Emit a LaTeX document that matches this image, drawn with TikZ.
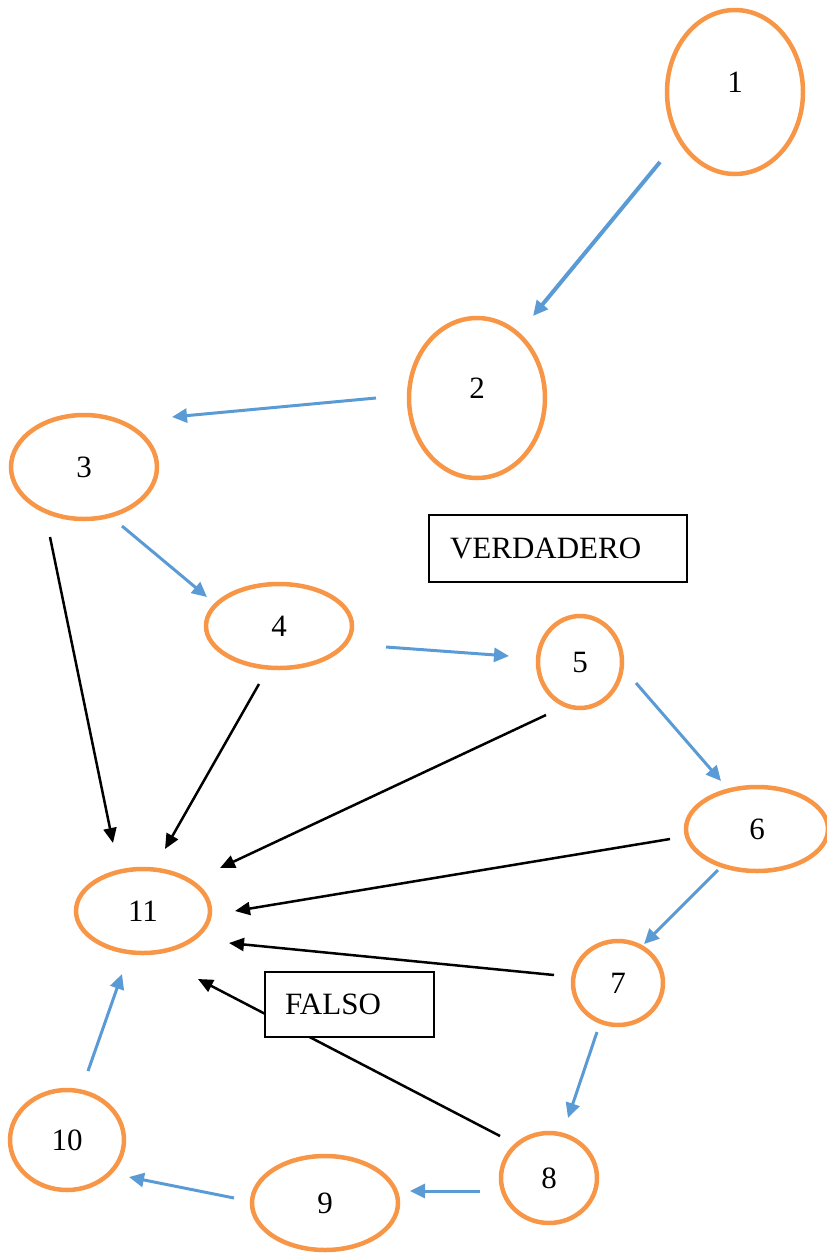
\documentclass[tikz,border=0pt]{standalone}
\usepackage{fontspec}
\setmainfont{Liberation Serif}
\usetikzlibrary{shapes.geometric,arrows.meta}
\definecolor{ora}{HTML}{F79646}
\definecolor{blu}{HTML}{5B9BD5}
\tikzset{
  nd/.style={ellipse,draw=ora,line width=4.5pt,inner sep=0pt,font=\fontsize{31}{36}\selectfont},
  bx/.style={rectangle,draw=black,fill=white,line width=2pt,inner ysep=0pt,align=left,font=\fontsize{31}{36}\selectfont},
  ba/.style={draw=blu,line width=3pt,-{Triangle[length=15pt,width=14pt]}},
  ka/.style={draw=black,line width=2.5pt,-{Triangle[length=15pt,width=13pt]}}
}
\begin{document}
\begin{tikzpicture}[x=1pt,y=-1pt]
\useasboundingbox (0,0) rectangle (827,1253);
% nodes
\node[nd,minimum width=136pt,minimum height=164pt] (n1) at (735,92) {\raisebox{20pt}{1}};
\node[nd,minimum width=136pt,minimum height=160pt] (n2) at (477,398) {\raisebox{19pt}{2}};
\node[nd,minimum width=146pt,minimum height=104pt] (n3) at (84,467) {3};
\node[nd,minimum width=146pt,minimum height=84pt] (n4) at (279,626) {4};
\node[nd,minimum width=84pt,minimum height=92pt] (n5) at (580,662) {5};
\node[nd,minimum width=142pt,minimum height=84pt] (n6) at (757,829) {6};
\node[nd,minimum width=90pt,minimum height=84pt] (n7) at (618,983) {7};
\node[nd,minimum width=96pt,minimum height=90pt] (n8) at (549,1178) {8};
\node[nd,minimum width=146pt,minimum height=94pt] (n9) at (325,1203) {9};
\node[nd,minimum width=114pt,minimum height=100pt] (n10) at (67,1140) {10};
\node[nd,minimum width=134pt,minimum height=84pt] (n11) at (143,911) {11};
% connector end points
\coordinate (a12) at (660,162); \coordinate (b12) at (533,316);
\coordinate (a23) at (376,398); \coordinate (b23) at (172,417);
\coordinate (a34) at (122,526); \coordinate (b34) at (207,597);
\coordinate (a45) at (386,647); \coordinate (b45) at (509,656);
\coordinate (a56) at (636,683); \coordinate (b56) at (721,781);
\coordinate (a67) at (718,870); \coordinate (b67) at (644,944);
\coordinate (a78) at (597,1032); \coordinate (b78) at (568,1118);
\coordinate (a89) at (480,1191); \coordinate (b89) at (410,1191);
\coordinate (a910) at (234,1198); \coordinate (b910) at (129,1177);
\coordinate (a1011) at (88,1071); \coordinate (b1011) at (122,974);
\coordinate (a311) at (50,537); \coordinate (b311) at (113,843);
\coordinate (a411) at (259,684); \coordinate (b411) at (165,849);
\coordinate (a511) at (546,715); \coordinate (b511) at (220,868);
\coordinate (a611) at (670,839); \coordinate (b611) at (235,911);
\coordinate (a711) at (554,975); \coordinate (b711) at (229,943);
\coordinate (a811) at (500,1136); \coordinate (b811) at (198,979);
% blue connectors
\draw[ba,line width=4pt] (a12) -- (b12);
\draw[ba] (a23) -- (b23);
\draw[ba] (a34) -- (b34);
\draw[ba] (a45) -- (b45);
\draw[ba] (a56) -- (b56);
\draw[ba] (a67) -- (b67);
\draw[ba] (a78) -- (b78);
\draw[ba] (a89) -- (b89);
\draw[ba] (a910) -- (b910);
\draw[ba] (a1011) -- (b1011);
% black connectors
\draw[ka] (a311) -- (b311);
\draw[ka] (a411) -- (b411);
\draw[ka] (a511) -- (b511);
\draw[ka] (a611) -- (b611);
\draw[ka] (a711) -- (b711);
\draw[ka] (a811) -- (b811);
% boxes
\node[bx,inner xsep=21pt,text width=216pt,minimum height=67pt] (ver) at (558,548) {VERDADERO};
\node[bx,inner xsep=20pt,text width=129pt,minimum height=65pt] (fal) at (349.5,1004.5) {FALSO};
\end{tikzpicture}
\end{document}
